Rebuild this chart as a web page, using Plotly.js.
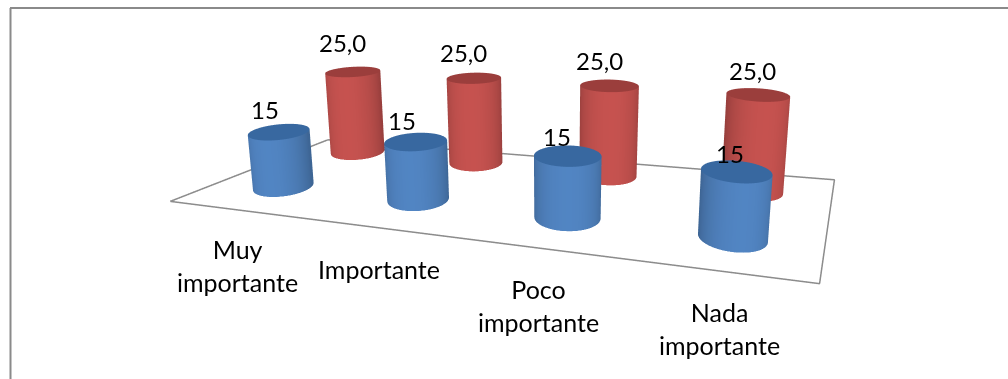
<!DOCTYPE html>
<html>
<head>
<meta charset="utf-8">
<script src="https://cdn.plot.ly/plotly-3.0.1.min.js"></script>
<style>
  html, body { margin: 0; padding: 0; width: 1008px; height: 379px; overflow: hidden; background: #fff; }
  /* The plot is taller than the page so that the 45-degree scene lens gives a flatter perspective. */
  #chart { position: absolute; left: 0; top: -182px; width: 1008px; height: 745px; }
</style>
</head>
<body>
<div id="chart"></div>
<script>
const categories = ["Muy<br>importante", "Importante", "Poco<br>importante", "Nada<br>importante"];
const seriesA = [15, 15, 15, 15];
const seriesB = [25, 25, 25, 25];
const labelA = ["15", "15", "15", "15"];
const labelB = ["25,0", "25,0", "25,0", "25,0"];

const W = 1008, H = 745, TOP = -182;
const pxX = x => x / W;
const pxY = y => 1 - (y - TOP) / H;

const SEG = 64;
const FONT = { family: "Lato", size: 25, color: "#000" };
const VALUE_FONT = { family: "Lato", size: 24, color: "#000" };

// Column placement on the floor
const xA = [0.5, 1.515, 2.537, 3.51];
const xB = [0.46, 1.485, 2.508, 3.495];
const yA = [0.68, 0.7, 0.64, 0.58];
const yB = [1.79, 1.76, 1.71, 1.63];
const sizeA = [1, 1, 1, 0.93];
const sizeB = [1.05, 1, 1, 0.96];

// Label offsets from the top of each column
const shiftXA = [-14.5, -13.5, -10.5, -6];
const shiftYA = [6, 5, 3, 1];
const shiftXB = [-10.5, -10, -10, -5];
const shiftYB = [13, 9, 9, 8];

// Footprint radii in scene units, across and along the line of sight
const R_ACROSS = 0.0985, R_ALONG = 0.132;
const SCENE_X = 0.5, SCENE_Y = 0.9938 / 2.1;
const ALONG = [0.367, -0.93], ACROSS = [0.93, 0.367];

// Shade a base colour by the angle around the footprint, brightest just right of the viewer.
function shade(base, t) {
  const c = Math.cos(t - Math.PI / 2 - 0.08);
  const f = 0.79 + 0.24 * Math.max(0, c);
  return "rgb(" + base.map(v => Math.round(Math.min(255, v * f))).join(",") + ")";
}

function footprint(cx, cy, t, size) {
  const a = size * R_ACROSS * Math.cos(t), b = size * R_ALONG * Math.sin(t);
  return [cx + (a * ACROSS[0] + b * ALONG[0]) / SCENE_X, cy + (a * ACROSS[1] + b * ALONG[1]) / SCENE_Y];
}

// One closed cylinder standing on the floor at (cx, cy), as high as its value.
function cylinder(cx, cy, value, size, base, topColor) {
  const x = [], y = [], z = [], i = [], j = [], k = [], vc = [];
  for (let s = 0; s < SEG; s++) {
    const t = 2 * Math.PI * s / SEG;
    const p = footprint(cx, cy, t, size);
    x.push(p[0], p[0]);
    y.push(p[1], p[1]);
    z.push(0, value);
    vc.push(shade(base, t), shade(base, t));
  }
  for (let s = 0; s < SEG; s++) {
    const n = (s + 1) % SEG;
    i.push(2 * s, 2 * n);
    j.push(2 * n, 2 * n + 1);
    k.push(2 * s + 1, 2 * s + 1);
  }
  const side = {
    type: "mesh3d", x, y, z, i, j, k, vertexcolor: vc, hoverinfo: "skip", flatshading: false,
    lighting: { ambient: 1, diffuse: 0, specular: 0, fresnel: 0, roughness: 1 }
  };
  const tx = [cx], ty = [cy], tz = [value], ti = [], tj = [], tk = [];
  for (let s = 0; s < SEG; s++) {
    const p = footprint(cx, cy, 2 * Math.PI * s / SEG, size);
    tx.push(p[0]);
    ty.push(p[1]);
    tz.push(value);
    ti.push(0); tj.push(s + 1); tk.push((s + 1) % SEG + 1);
  }
  const cap = {
    type: "mesh3d", x: tx, y: ty, z: tz, i: ti, j: tj, k: tk, color: topColor, hoverinfo: "skip",
    lighting: { ambient: 1, diffuse: 0, specular: 0, fresnel: 0, roughness: 1 }
  };
  return [side, cap];
}

const traces = [];
const floor = {
  type: "scatter3d", mode: "lines", hoverinfo: "skip", showlegend: false,
  x: [0.012, 3.995, 3.985, 0, 0.012], y: [0.1, 0, 2.1, 2.1, 0.1], z: [0, 0, 0, 0, 0],
  line: { color: "#8c8c8c", width: 3 }
};
traces.push(floor);
const sceneLabels = [];
categories.forEach((c, n) => {
  traces.push(...cylinder(xB[n], yB[n], seriesB[n], sizeB[n], [192, 80, 77], "rgb(155,62,60)"));
  traces.push(...cylinder(xA[n], yA[n], seriesA[n], sizeA[n], [79, 129, 189], "rgb(56,104,160)"));
  sceneLabels.push({ x: xB[n], y: yB[n], z: seriesB[n], text: labelB[n], showarrow: false, yanchor: "bottom", xshift: shiftXB[n], yshift: shiftYB[n], font: VALUE_FONT });
  sceneLabels.push({ x: xA[n], y: yA[n], z: seriesA[n], text: labelA[n], showarrow: false, yanchor: "bottom", xshift: shiftXA[n], yshift: shiftYA[n], font: VALUE_FONT });
});

const catX = [237, 379, 538, 719];
const catY = [266, 269, 305, 328];
const catNotes = categories.map((c, n) => ({
  xref: "paper", yref: "paper", x: pxX(catX[n]), y: pxY(catY[n]), text: c, showarrow: false,
  xanchor: "center", yanchor: "middle", font: FONT
}));

const hidden = { visible: false, showgrid: false, zeroline: false, showticklabels: false, showspikes: false };
const layout = {
  width: W, height: H, margin: { l: 0, r: 0, t: 0, b: 0 }, paper_bgcolor: "#fff", showlegend: false,
  scene: {
    domain: { x: [0, 1], y: [0, 1] },
    bgcolor: "#fff",
    aspectmode: "manual",
    aspectratio: { x: 2, y: 0.9938, z: 0.378 },
    xaxis: Object.assign({ range: [0, 4] }, hidden),
    yaxis: Object.assign({ range: [0, 2.1] }, hidden),
    zaxis: Object.assign({ range: [0, 30] }, hidden),
    camera: {
      eye: { x: 1.048, y: -2.636, z: 0.626 },
      center: { x: -0.018, y: 0.0157, z: -0.189 },
      up: { x: -0.0963, y: 0.281, z: 0.962 },
      projection: { type: "perspective" }
    },
    annotations: sceneLabels,
    dragmode: false
  },
  annotations: catNotes,
  shapes: [
    { type: "line", xref: "paper", yref: "paper", x0: pxX(10.5), x1: pxX(10.5), y0: pxY(8), y1: pxY(379), line: { color: "#8a8a8a", width: 2 } },
    { type: "line", xref: "paper", yref: "paper", x0: pxX(10), x1: pxX(1008), y0: pxY(8), y1: pxY(8), line: { color: "#8a8a8a", width: 2 } }
  ]
};
Plotly.newPlot("chart", traces, layout, { displayModeBar: false });
</script>
</body>
</html>
